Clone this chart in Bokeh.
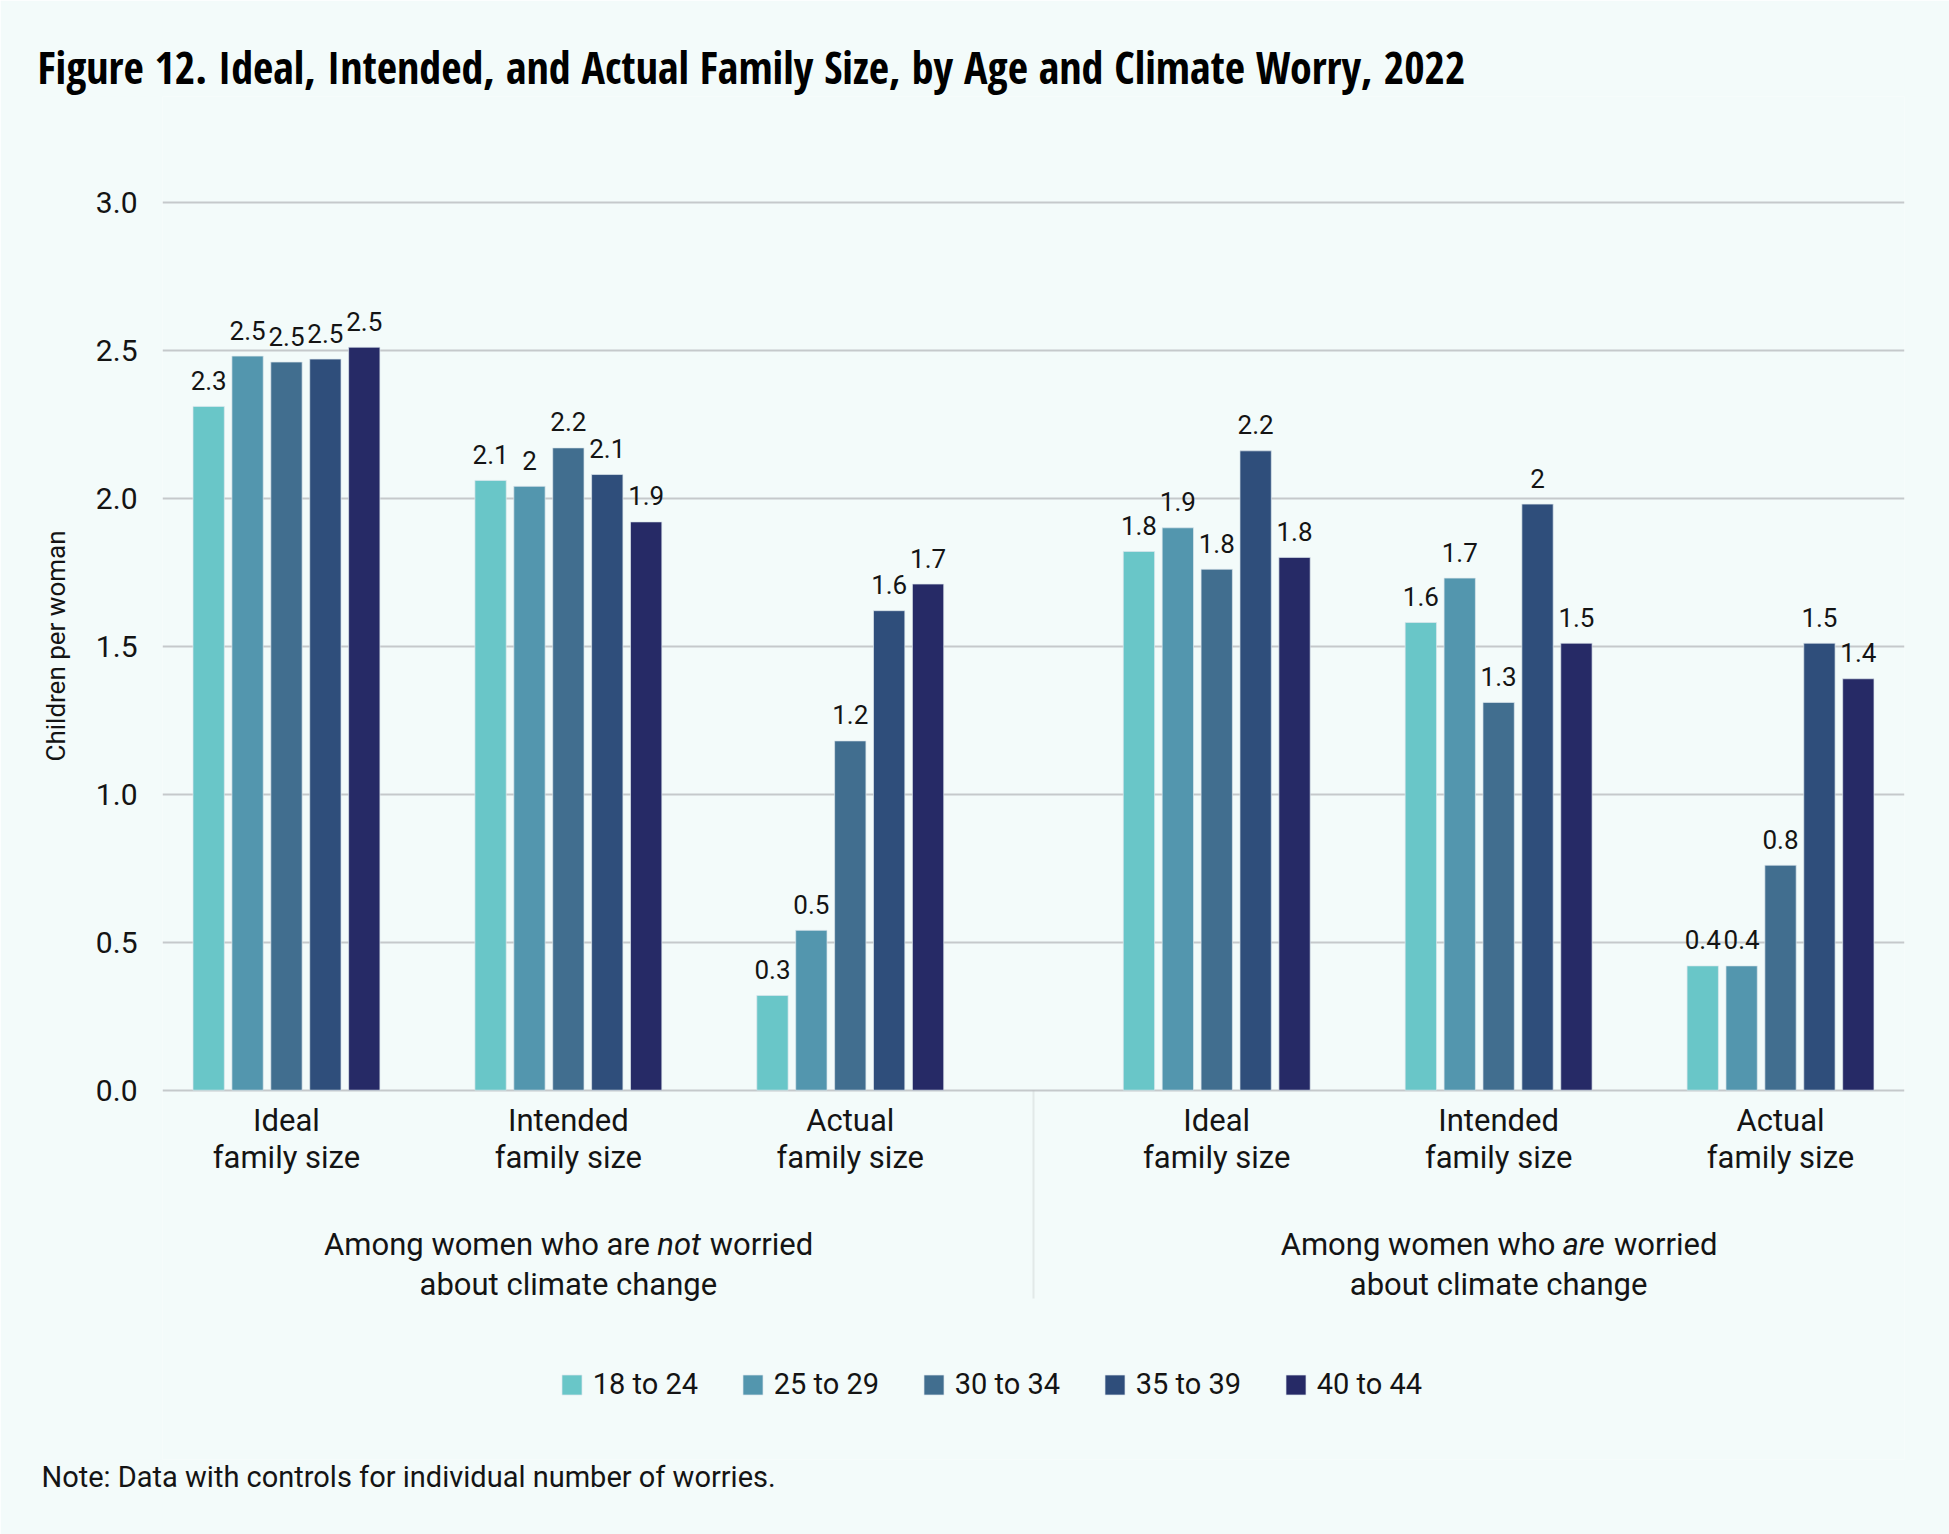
from bokeh.plotting import figure
from bokeh.models import (FactorRange, Range1d, Label, Legend, LegendItem, BoxAnnotation,
                          FixedTicker, PrintfTickFormatter, ColumnDataSource, Title)
from bokeh.transform import dodge
from bokeh.core.properties import value
from bokeh.embed import file_html
from bokeh.resources import INLINE

# ---------------- data ----------------
title_text = "Figure 12. Ideal, Intended, and Actual Family Size, by Age and Climate Worry, 2022"
note_text = "Note: Data with controls for individual number of worries."
y_axis_label = "Children per woman"
panels = ["not worried", "worried"]
measures = ["Ideal\nfamily size", "Intended\nfamily size", "Actual\nfamily size"]
age_groups = ["18 to 24", "25 to 29", "30 to 34", "35 to 39", "40 to 44"]
# per age group: not worried (ideal, intended, actual), worried (ideal, intended, actual)
age_18_24 = [2.31, 2.06, 0.32, 1.82, 1.58, 0.42]
age_25_29 = [2.48, 2.04, 0.54, 1.90, 1.73, 0.42]
age_30_34 = [2.46, 2.17, 1.18, 1.76, 1.31, 0.76]
age_35_39 = [2.47, 2.08, 1.62, 2.16, 1.98, 1.51]
age_40_44 = [2.51, 1.92, 1.71, 1.80, 1.51, 1.39]
y_ticks = [0.0, 0.5, 1.0, 1.5, 2.0, 2.5, 3.0]
group_label_line1 = [("Among women who are", "not", "worried"),
                     ("Among women who", "are", "worried")]
group_label_line2 = "about climate change"

colors = ["#69C6C8", "#5396AE", "#416E8F", "#2F4E7B", "#262A66"]
BG = "#F3FBFA"
GRID = "#C5C9CB"
TXT = "#141414"
FONT = "Roboto"
TITLE_FONT = "Open Sans Condensed"

series = [age_18_24, age_25_29, age_30_34, age_35_39, age_40_44]
factors = [(pn, m) for pn in panels for m in measures]

# ---------------- layout constants ----------------
W, H = 1949, 1534
FRAME_TOP, FRAME_BOTTOM = 96, 1459
PX_PER_UNIT = 296.0
ZERO_PX = 1089.7
FP, GP, PAD = 0.4, 0.82, 0.1157
BAR_STEP, BAR_W = 0.1932, 0.1555


def py(px):
    """data y of a canvas pixel row"""
    return (ZERO_PX - px) / PX_PER_UNIT


def synth(panel_i, measure_j):
    # synthetic coordinate of a factor centre in the FactorRange
    return 0.5 + measure_j * (1 + FP) + panel_i * (3 + GP + 2 * FP)


p = figure(width=W, height=H, output_backend="svg", toolbar_location=None,
           x_range=FactorRange(factors=factors, factor_padding=FP, group_padding=GP,
                               range_padding=PAD, range_padding_units="absolute"),
           y_range=Range1d(py(FRAME_BOTTOM), py(FRAME_TOP)),
           x_axis_location=None,
           min_border_left=162, min_border_right=45,
           min_border_top=FRAME_TOP, min_border_bottom=H - FRAME_BOTTOM)
p.background_fill_color = BG
p.border_fill_color = BG
p.outline_line_color = None
p.xgrid.grid_line_color = None
p.xgrid.visible = False

legend_items = []
for k, (name, vals, col) in enumerate(zip(age_groups, series, colors)):
    src = ColumnDataSource(dict(x=factors, top=vals,
                                lab=[f"{round(v, 1):g}" for v in vals]))
    off = (k - 2) * BAR_STEP
    r = p.vbar(x=dodge("x", off, range=p.x_range), top="top", bottom=0, width=BAR_W,
               source=src, fill_color=col, line_color="#dde7ec", line_width=1, line_alpha=0.7)
    p.text(x=dodge("x", off, range=p.x_range), y="top", text="lab", source=src,
           text_align="center", text_baseline="alphabetic", y_offset=-26,
           text_font=value(FONT), text_font_size="26px", text_color=TXT)
    legend_items.append(LegendItem(label=name, renderers=[r]))

# y axis and grid
p.yaxis.ticker = FixedTicker(ticks=y_ticks)
p.yaxis.formatter = PrintfTickFormatter(format="%.1f")
p.yaxis.axis_line_color = None
p.yaxis.major_tick_line_color = None
p.yaxis.minor_tick_line_color = None
p.yaxis.major_tick_out = 0
p.yaxis.major_label_standoff = 25
p.yaxis.major_label_text_font = FONT
p.yaxis.major_label_text_font_size = "30px"
p.yaxis.major_label_text_color = TXT

p.ygrid.ticker = FixedTicker(ticks=y_ticks)
p.ygrid.grid_line_color = GRID
p.ygrid.grid_line_width = 2

p.add_layout(Title(text=y_axis_label, align="left", offset=FRAME_BOTTOM - 761,
                   vertical_align="bottom", standoff=44, text_font=FONT,
                   text_font_size="26px", text_font_style="normal", text_color=TXT), "left")

# category labels (x axis)
cat_src = ColumnDataSource(dict(x=factors, y=[py(1101)] * len(factors),
                                t=[f[1] for f in factors]))
p.text(x="x", y="y", text="t", source=cat_src, text_align="center", text_baseline="top",
       text_font=value(FONT), text_font_size="31px", text_color=TXT, text_line_height=1.0)

# divider between the two panels (below the plot)
mid = (synth(0, 2) + synth(1, 0)) / 2
p.add_layout(BoxAnnotation(left=mid, right=mid, top=0, bottom=py(1298),
                           fill_color=None, line_color="#BDBFC0", line_width=2))

# group labels
GF = 31
piece_offsets = [(-7.88, 2.87, 4.56), (-7.03, 2.06, 3.72)]
for i, (pieces, offs) in enumerate(zip(group_label_line1, piece_offsets)):
    cx = synth(i, 1)
    for txt, o, style in zip(pieces, offs, ["normal", "italic", "normal"]):
        p.add_layout(Label(x=cx, y=py(1244), text=txt, x_offset=o * GF,
                           text_align="left", text_baseline="alphabetic",
                           text_font=FONT, text_font_size=f"{GF}px", text_font_style=style,
                           text_color=TXT))
    p.add_layout(Label(x=cx, y=py(1284), text=group_label_line2,
                       text_align="center", text_baseline="alphabetic",
                       text_font=FONT, text_font_size=f"{GF}px", text_color=TXT))

# legend
legend = Legend(items=legend_items, orientation="horizontal", location=(396.7, 58),
                glyph_width=25, glyph_height=25, label_standoff=9, label_width=110,
                label_height=25, spacing=37, padding=0, margin=0, border_line_color=None,
                background_fill_alpha=0, label_text_font=FONT, label_text_font_size="29px",
                label_text_color=TXT)
p.add_layout(legend)

# title and note
p.add_layout(Title(text=title_text, align="left", offset=-125, vertical_align="bottom",
                   standoff=0, text_font=TITLE_FONT, text_font_size="44px",
                   text_font_style="bold", text_color="#000000"), "above")
p.add_layout(Title(text=note_text, align="left", offset=-121, vertical_align="top",
                   standoff=0, text_font=FONT, text_font_size="29px",
                   text_font_style="normal", text_color=TXT), "below")

open("out.html", "w").write(file_html(p, INLINE))
